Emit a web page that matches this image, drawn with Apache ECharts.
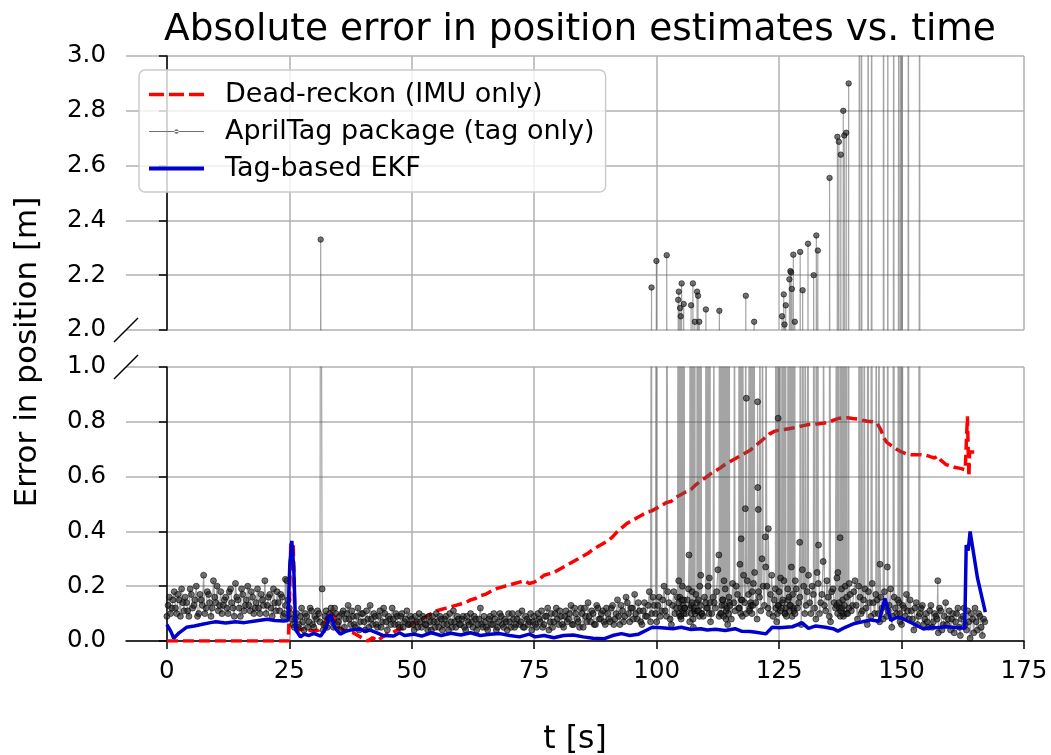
<!DOCTYPE html>
<html>
<head>
<meta charset="utf-8">
<script src="https://cdn.jsdelivr.net/npm/echarts@6/dist/echarts.min.js"></script>
<style>
  html, body { margin: 0; padding: 0; background: #fff; }
  #chart { width: 1051px; height: 755px; }
</style>
</head>
<body>
<div id="chart"></div>
<script>
const FONT = '"DejaVu Sans", "Liberation Sans", sans-serif';

const xTicks = [0, 25, 50, 75, 100, 125, 150, 175];

// dead-reckon error [t, err]
const deadReckon = [[0,0],[5,0],[10,0],[15,0],[20,0],[24.8,0],[25.1,0.2],[25.3,0.36],[25.8,0.35],[26.1,0.1],[26.4,0.05],[27,0.04],[28,0.045],[29,0.04],[30,0.035],[31,0.04],[32,0.06],[32.8,0.09],[33.5,0.105],[34.2,0.09],[35,0.05],[36,0.04],[37,0.035],[38,0.03],[39,0.02],[40,0.01],[41,0.0],[42,0.012],[43,0.0],[44,0.015],[45,0.025],[46,0.03],[47,0.04],[48,0.045],[49,0.055],[50,0.06],[51,0.07],[52,0.08],[53,0.09],[54,0.1],[55,0.11],[56,0.115],[57,0.12],[58,0.125],[59,0.13],[60,0.135],[61,0.14],[62,0.15],[63,0.155],[64,0.165],[65,0.17],[66,0.18],[67,0.19],[68,0.195],[69,0.2],[70,0.205],[71,0.21],[72,0.215],[73,0.22],[74,0.21],[75,0.215],[76,0.225],[77,0.24],[78,0.245],[79,0.25],[80,0.26],[81,0.27],[82,0.28],[83,0.29],[84,0.3],[85,0.31],[86,0.32],[87,0.335],[88,0.345],[89,0.355],[90,0.365],[91,0.38],[92,0.4],[93,0.415],[94,0.43],[95,0.44],[96,0.45],[97,0.46],[98,0.47],[99,0.475],[100,0.485],[101,0.495],[102,0.505],[103,0.51],[104,0.525],[105,0.535],[106,0.545],[107,0.553],[108,0.57],[109,0.585],[110,0.596],[111,0.61],[112,0.62],[113,0.632],[114,0.645],[115,0.655],[116,0.665],[117,0.675],[118,0.685],[119,0.695],[120,0.71],[121,0.725],[122,0.74],[123,0.755],[124,0.765],[125,0.77],[126,0.772],[127,0.775],[128,0.778],[129,0.782],[130,0.786],[131,0.79],[132,0.79],[133,0.793],[134,0.795],[135,0.797],[136,0.805],[137,0.812],[138,0.815],[139,0.815],[140,0.812],[141,0.81],[142,0.806],[143,0.802],[144,0.8],[145,0.795],[145.8,0.77],[146.4,0.74],[147,0.725],[148,0.712],[149,0.7],[150,0.69],[151,0.683],[152,0.68],[153,0.68],[154,0.68],[155,0.678],[156,0.672],[156.8,0.668],[157.3,0.675],[158,0.66],[159,0.645],[160,0.638],[161,0.633],[162,0.63],[163,0.625],[163.3,0.62],[163.45,0.82],[163.6,0.7],[163.75,0.6],[163.9,0.69],[164.5,0.69],[165.8,0.69]];

// EKF error [t, err]
const ekf = [[0,0.06],[0.8,0.035],[1.4,0.01],[2.5,0.03],[4,0.05],[5.6,0.055],[7,0.06],[8.9,0.067],[10,0.07],[12,0.066],[14,0.07],[15.8,0.067],[18,0.073],[20.5,0.079],[22,0.075],[23.9,0.073],[24.7,0.075],[25.1,0.28],[25.5,0.365],[25.9,0.27],[26.3,0.04],[27.3,0.015],[28,0.025],[29,0.02],[30,0.028],[31.4,0.018],[32.6,0.05],[33.1,0.095],[33.6,0.09],[34.2,0.05],[35.4,0.025],[36.5,0.035],[37.5,0.04],[39.5,0.043],[40.5,0.035],[41.5,0.04],[42.9,0.03],[44.2,0.02],[46.3,0.018],[47.5,0.03],[48.5,0.02],[50.4,0.025],[52,0.018],[54,0.03],[56,0.02],[58,0.028],[60,0.022],[62,0.03],[64,0.02],[66,0.025],[68,0.027],[70,0.02],[72,0.015],[74,0.025],[75.2,0.015],[77,0.02],[79,0.012],[81,0.02],[83,0.022],[85,0.015],[87,0.01],[89.2,0.008],[91,0.02],[92.8,0.027],[94.5,0.02],[96.3,0.025],[98,0.04],[99.1,0.05],[101,0.048],[103.3,0.045],[105,0.05],[107,0.042],[109,0.045],[110.3,0.04],[112,0.043],[114,0.038],[116,0.045],[117.3,0.036],[119,0.035],[120.3,0.032],[122.3,0.026],[123.6,0.05],[125,0.048],[127.7,0.052],[129.7,0.066],[131,0.046],[132.5,0.055],[134.4,0.05],[136,0.045],[137,0.036],[138.5,0.05],[140.4,0.064],[142,0.07],[143.8,0.077],[145.4,0.072],[146.6,0.155],[147.3,0.11],[147.8,0.075],[148.8,0.085],[149.8,0.085],[151,0.075],[152.5,0.062],[154.5,0.044],[156,0.05],[157.2,0.048],[159,0.052],[160.5,0.05],[162.2,0.048],[162.9,0.045],[163.2,0.35],[163.6,0.33],[164,0.4],[165.5,0.23],[167.1,0.105]];

// AprilTag error, regular samples [t, err]
const tagMain = [
[0,0.09],[0.5,0.16],[1,0.12],[1.5,0.18],[2,0.1],[2.5,0.15],[3,0.19],[3.5,0.11],[4,0.14],[4.5,0.09],
[5,0.17],[5.5,0.13],[6,0.2],[6.5,0.1],[7,0.15],[7.5,0.24],[8,0.12],[8.5,0.17],[9,0.09],[9.5,0.22],
[10,0.14],[10.5,0.11],[11,0.18],[11.5,0.13],[12,0.16],[12.5,0.1],[13,0.19],[13.5,0.12],[14,0.21],[14.5,0.15],
[15,0.09],[15.5,0.17],[16,0.13],[16.5,0.2],[17,0.11],[17.5,0.16],[18,0.12],[18.5,0.19],[19,0.1],[19.5,0.15],
[20,0.22],[20.5,0.13],[21,0.17],[21.5,0.09],[22,0.14],[22.5,0.18],[23,0.11],[23.5,0.16],[24,0.1],[24.5,0.22],
[25,0.12],[25.5,0.08],[26,0.05],[26.5,0.1],[27,0.06],[27.5,0.12],[28,0.04],[28.5,0.09],[29,0.07],[29.5,0.11],
[30,0.05],[30.5,0.08],[31,0.1],[32,0.06],[32.5,0.11],[33,0.08],[33.5,0.12],[34,0.05],[34.5,0.1],
[35,0.07],[35.5,0.04],[36,0.11],[36.5,0.08],[37,0.13],[37.5,0.06],[38,0.09],[38.5,0.05],[39,0.12],[39.5,0.07],
[40,0.1],[40.5,0.04],[41,0.08],[41.5,0.13],[42,0.06],[42.5,0.09],[43,0.05],[43.5,0.11],[44,0.07],[44.5,0.1],
[45,0.04],[45.5,0.08],[46,0.12],[46.5,0.06],[47,0.09],[47.5,0.05],[48,0.1],[48.5,0.07],[49,0.11],[49.5,0.06],
[50,0.08],[50.5,0.04],[51,0.07],[51.5,0.1],[52,0.05],[52.5,0.08],[53,0.06],[53.5,0.09],[54,0.04],[54.5,0.07],
[55,0.1],[55.5,0.05],[56,0.08],[56.5,0.06],[57,0.09],[57.5,0.04],[58,0.07],[58.5,0.11],[59,0.05],[59.5,0.08],
[60,0.06],[60.5,0.09],[61,0.04],[61.5,0.07],[62,0.1],[62.5,0.05],[63,0.08],[63.5,0.06],[64,0.12],[64.5,0.05],
[65,0.07],[65.5,0.04],[66,0.09],[66.5,0.06],[67,0.08],[67.5,0.05],[68,0.1],[68.5,0.06],[69,0.08],[69.5,0.04],
[70,0.07],[70.5,0.1],[71,0.05],[71.5,0.08],[72,0.06],[72.5,0.11],[73,0.05],[73.5,0.08],[74,0.07],[74.5,0.04],
[75,0.09],[75.5,0.05],[76,0.08],[76.5,0.11],[77,0.06],[77.5,0.09],[78,0.04],[78.5,0.1],[79,0.07],[79.5,0.12],
[80,0.06],[80.5,0.09],[81,0.05],[81.5,0.11],[82,0.08],[82.5,0.13],[83,0.06],[83.5,0.1],[84,0.07],[84.5,0.12],
[85,0.05],[85.5,0.09],[86,0.14],[86.5,0.07],[87,0.1],[87.5,0.06],[88,0.12],[88.5,0.08],[89,0.11],[89.5,0.06],
[90,0.1],[90.5,0.07],[91,0.13],[91.5,0.08],[92,0.15],[92.5,0.06],[93,0.11],[93.5,0.09],[94,0.14],[94.5,0.07],
[95,0.12],[95.5,0.17],[96,0.08],[96.5,0.11],[97,0.06],[97.5,0.14],[98,0.09],[98.5,0.18],[99,0.1],[99.5,0.13],
[100,0.07],[100.5,0.16],[101,0.11],[101.5,0.2],[102,0.09],[102.5,0.14],[103,0.06],[103.5,0.18],[104,0.12],[104.5,0.22],
[105,0.08],[105.5,0.15],[106,0.1],[106.5,0.19],[107,0.13],[107.5,0.05],[108,0.17],[108.5,0.11],[109,0.24],[109.5,0.09],
[110,0.14],[110.5,0.2],[111,0.07],[111.5,0.16],[112,0.12],[112.5,0.26],[113,0.1],[113.5,0.15],[114,0.19],[114.5,0.06],
[115,0.13],[115.5,0.21],[116,0.11],[116.5,0.17],[117,0.28],[117.5,0.09],[118,0.14],[118.5,0.22],[119,0.12],[119.5,0.18],
[120,0.25],[120.5,0.08],[121,0.16],[121.5,0.3],[122,0.13],[122.5,0.2],[123,0.1],[123.5,0.24],[124,0.15],[124.5,0.07],
[125,0.18],[125.5,0.12],[126,0.22],[126.5,0.09],[127,0.16],[127.5,0.27],[128,0.11],[128.5,0.19],[129,0.14],[129.5,0.06],
[130,0.2],[130.5,0.13],[131,0.24],[131.5,0.1],[132,0.17],[132.5,0.08],[133,0.21],[133.5,0.14],[134,0.29],[134.5,0.11],
[135,0.16],[135.5,0.07],[136,0.19],[136.5,0.12],[137,0.25],[137.5,0.09],[138,0.15],[138.5,0.2],[139,0.1],[139.5,0.17],
[140,0.13],[140.5,0.22],[141,0.08],[141.5,0.16],[142,0.11],[142.5,0.19],[143,0.06],[143.5,0.14],[144,0.21],[144.5,0.1],
[145,0.15],[145.5,0.07],[146,0.12],[146.5,0.18],[147,0.09],[147.5,0.13],[148,0.05],[148.5,0.16],[149,0.1],[149.5,0.14],
[150,0.06],[150.5,0.12],[151,0.17],[151.5,0.08],[152,0.11],[152.5,0.04],[153,0.14],[153.5,0.09],[154,0.12],[154.5,0.06],
[155,0.1],[155.5,0.05],[156,0.13],[156.5,0.07],[157,0.09],[157.5,0.03],[158,0.11],[158.5,0.06],[159,0.14],[159.5,0.08],
[160,0.04],[160.5,0.1],[161,0.07],[161.5,0.12],[162,0.02],[162.5,0.09],[163,0.06],[163.5,0.11],[164,0.01],[164.5,0.08],
[165,0.12],[165.5,0.04],[166,0.09],[166.5,0.02],[167,0.07]
];

// AprilTag error, in-between samples [t, err]
const tagMid = [
[0.25,0.13],[0.75,0.1],[1.25,0.15],[1.75,0.12],[2.25,0.17],[2.75,0.09],[3.25,0.14],[3.75,0.16],[4.25,0.11],[4.75,0.19],
[5.25,0.12],[5.75,0.15],[6.25,0.09],[6.75,0.17],[7.25,0.13],[7.75,0.1],[8.25,0.18],[8.75,0.14],[9.25,0.12],[9.75,0.16],
[10.25,0.2],[10.75,0.13],[11.25,0.1],[11.75,0.15],[12.25,0.12],[12.75,0.18],[13.25,0.14],[13.75,0.09],[14.25,0.16],[14.75,0.12],
[15.25,0.19],[15.75,0.11],[16.25,0.15],[16.75,0.13],[17.25,0.18],[17.75,0.1],[18.25,0.14],[18.75,0.12],[19.25,0.17],[19.75,0.13],
[20.25,0.1],[20.75,0.16],[21.25,0.12],[21.75,0.19],[22.25,0.11],[22.75,0.14],[23.25,0.17],[23.75,0.09],[24.25,0.13],[24.75,0.15],
[25.25,0.1],[25.75,0.06],[26.25,0.08],[26.75,0.05],[27.25,0.09],[27.75,0.07],[28.25,0.1],[28.75,0.05],[29.25,0.12],[29.75,0.06],
[30.25,0.09],[30.75,0.11],[31.25,0.07],[31.9,0.04],[32.25,0.09],[32.75,0.05],[33.25,0.1],[33.75,0.07],[34.25,0.12],[34.75,0.06],
[35.25,0.09],[35.75,0.1],[36.25,0.05],[36.75,0.1],[37.25,0.08],[37.75,0.11],[38.25,0.06],[38.75,0.09],[39.25,0.04],[39.75,0.1],
[40.25,0.07],[40.75,0.11],[41.25,0.05],[41.75,0.08],[42.25,0.1],[42.75,0.06],[43.25,0.09],[43.75,0.05],[44.25,0.12],[44.75,0.07],
[45.25,0.09],[45.75,0.06],[46.25,0.08],[46.75,0.1],[47.25,0.06],[47.75,0.09],[48.25,0.05],[48.75,0.08],[49.25,0.06],[49.75,0.09],
[50.25,0.06],[50.75,0.09],[51.25,0.05],[51.75,0.07],[52.25,0.09],[52.75,0.06],[53.25,0.04],[53.75,0.07],[54.25,0.09],[54.75,0.05],
[55.25,0.07],[55.75,0.09],[56.25,0.04],[56.75,0.08],[57.25,0.06],[57.75,0.1],[58.25,0.05],[58.75,0.07],[59.25,0.09],[59.75,0.06],
[60.25,0.08],[60.75,0.05],[61.25,0.09],[61.75,0.06],[62.25,0.07],[62.75,0.09],[63.25,0.04],[63.75,0.08],[64.25,0.06],[64.75,0.09],
[65.25,0.05],[65.75,0.08],[66.25,0.06],[66.75,0.1],[67.25,0.04],[67.75,0.07],[68.25,0.09],[68.75,0.05],[69.25,0.07],[69.75,0.1],
[70.25,0.05],[70.75,0.08],[71.25,0.06],[71.75,0.1],[72.25,0.07],[72.75,0.05],[73.25,0.09],[73.75,0.06],[74.25,0.1],[74.75,0.07],
[75.25,0.06],[75.75,0.1],[76.25,0.07],[76.75,0.05],[77.25,0.09],[77.75,0.12],[78.25,0.07],[78.75,0.05],[79.25,0.1],[79.75,0.08],
[80.25,0.11],[80.75,0.06],[81.25,0.09],[81.75,0.07],[82.25,0.1],[82.75,0.06],[83.25,0.12],[83.75,0.08],[84.25,0.05],[84.75,0.1],
[85.25,0.12],[85.75,0.07],[86.25,0.09],[86.75,0.11],[87.25,0.06],[87.75,0.13],[88.25,0.08],[88.75,0.1],[89.25,0.07],[89.75,0.12],
[90.25,0.08],[90.75,0.12],[91.25,0.06],[91.75,0.1],[92.25,0.09],[92.75,0.13],[93.25,0.07],[93.75,0.16],[94.25,0.1],[94.75,0.12],
[95.25,0.08],[95.75,0.1],[96.25,0.14],[96.75,0.07],[97.25,0.11],[97.75,0.09],[98.25,0.13],[98.75,0.07],[99.25,0.16],[99.75,0.1],
[100.25,0.13],[100.75,0.09],[101.25,0.15],[101.75,0.11],[102.25,0.18],[102.75,0.08],[103.25,0.13],[103.75,0.1],[104.25,0.16],[104.75,0.09],
[105.25,0.2],[105.75,0.12],[106.25,0.15],[106.75,0.07],[107.25,0.18],[107.75,0.11],[108.2,0.14],[108.8,0.2],[109.25,0.1],[109.75,0.16],
[110.2,0.12],[110.75,0.23],[111.25,0.1],[111.75,0.14],[112.25,0.18],[112.75,0.09],[113.3,0.13],[113.75,0.22],[114.25,0.11],[114.75,0.16],
[115.25,0.08],[115.75,0.14],[116.25,0.2],[116.75,0.12],[117.3,0.15],[117.75,0.24],[118.25,0.1],[118.75,0.17],[119.3,0.13],[119.75,0.21],
[120.25,0.14],[120.8,0.18],[121.25,0.11],[121.75,0.2],[122.25,0.27],[122.75,0.12],[123.25,0.17],[123.75,0.09],[124.25,0.19],[124.75,0.13],
[125.3,0.23],[125.75,0.15],[126.25,0.1],[126.75,0.19],[127.2,0.13],[127.75,0.17],[128.3,0.22],[128.75,0.12],[129.25,0.16],[129.75,0.26],
[130.25,0.1],[130.75,0.18],[131.25,0.14],[131.75,0.2],[132.25,0.12],[132.75,0.25],[133.25,0.1],[133.75,0.17],[134.25,0.13],[134.75,0.22],
[135.25,0.09],[135.75,0.18],[136.25,0.14],[136.8,0.23],[137.3,0.12],[137.75,0.19],[138.2,0.1],[138.8,0.16],[139.3,0.21],[139.75,0.11],
[140.25,0.18],[140.75,0.13],[141.25,0.2],[141.75,0.1],[142.25,0.15],[142.75,0.12],[143.25,0.18],[143.75,0.09],[144.25,0.14],[144.75,0.17],
[145.25,0.1],[145.75,0.16],[146.25,0.08],[146.75,0.13],[147.25,0.11],[147.75,0.19],[148.25,0.09],[148.75,0.12],[149.25,0.15],[149.7,0.07],
[150.25,0.13],[150.75,0.09],[151.25,0.11],[151.75,0.15],[152.25,0.08],[152.75,0.12],[153.25,0.06],[153.75,0.1],[154.25,0.13],[154.75,0.08],
[155.25,0.07],[155.75,0.11],[156.25,0.05],[156.75,0.1],[157.25,0.08],[157.75,0.12],[158.25,0.04],[158.75,0.09],[159.25,0.06],[159.75,0.11],
[160.25,0.08],[160.75,0.03],[161.25,0.1],[161.75,0.05],[162.25,0.08],[162.75,0.12],[163.25,0.04],[163.75,0.07],[164.25,0.1],[164.75,0.03],
[165.25,0.07],[165.75,0.1],[166.25,0.05],[166.75,0.08]
];

// AprilTag outlier samples (and the low samples between them) [t, err]
const tagOutliers = [
[24.2,0.225],[31.4,2.33],[31.7,0.19],[98.95,2.155],[99.95,2.252],[102.05,2.273],
[104.4,2.11],[104.45,0.14],[104.52,2.14],[104.58,0.1],[104.66,1.6],[104.72,0.16],[104.78,2.08],[104.84,0.12],[104.9,2.05],[104.96,0.09],[105.04,1.4],[105.1,2.17],[105.16,0.15],[105.24,1.8],[105.3,0.11],[105.38,1.5],[105.44,0.13],[105.52,2.095],[105.56,0.1],[105.62,1.99],[105.68,0.12],
[106.6,0.314],[106.8,1.5],[106.86,0.12],[106.93,1.3],[107.03,2.09],[107.09,0.1],[107.16,1.7],[107.22,0.14],[107.4,2.17],[107.45,0.08],[107.55,1.4],[107.62,0.12],[107.8,2.03],[107.85,0.1],
[108.25,2.14],[108.3,0.11],[108.45,2.125],[108.52,0.15],[108.7,2.03],[108.76,0.09],[108.9,1.8],[108.95,0.13],[109.1,1.5],[109.16,0.1],
[110.05,2.075],[110.3,1.6],[110.35,0.12],[110.62,1.4],[110.68,0.1],[110.9,1.99],[110.95,0.14],[111.7,1.3],
[112.7,0.314],[112.8,2.07],[113.2,1.5],[113.26,0.1],[113.4,1.7],[113.45,0.15],[113.6,1.2],[113.66,0.09],[113.8,1.4],[113.86,0.13],[114.1,1.9],[114.16,0.08],[114.3,1.3],[114.36,0.12],[114.6,1.6],[114.66,0.1],[114.85,1.2],[114.9,0.14],
[115.9,1.5],[116.8,1.3],[116.86,0.12],[117.1,1.7],[117.16,0.1],[117.25,0.373],[117.35,1.4],[117.4,0.15],[117.6,1.2],
[118.1,0.483],[118.2,2.125],[118.3,0.886],[118.9,1.6],[118.96,0.11],[119.15,1.3],[119.2,0.14],[119.4,1.8],[119.46,0.1],[119.6,1.4],[119.66,0.13],[119.9,2.03],
[120.6,0.873],[120.65,0.56],[120.75,0.48],[121.05,1.5],[121.6,1.4],[122.2,0.38],[122.3,1.7],[122.8,0.41],
[124.3,1.6],[124.36,0.12],[124.6,1.2],[124.66,0.1],[124.8,0.813],[124.85,1.4],[124.9,0.13],[125.2,1.8],[125.26,0.11],[125.6,2.05],[125.66,0.14],[125.95,2.13],[126.1,2.02],[126.15,0.1],[126.35,2.09],[126.4,0.12],[126.8,1.5],[126.86,0.15],[127.1,2.185],[127.15,0.11],[127.3,2.215],[127.35,0.13],[127.45,2.21],[127.6,2.15],[127.65,0.09],[127.9,2.275],[127.95,0.12],[128.2,2.03],[128.25,0.1],
[129.2,0.36],[129.3,2.285],[129.8,2.145],[130.3,1.6],[130.9,2.315],[132.05,2.2],[132.6,2.345],[132.9,2.29],[133.05,0.35],[134.05,1.5],[135.3,2.555],
[136.7,1.4],[136.76,0.13],[136.9,2.705],[136.95,0.1],[137.2,2.687],[137.25,0.14],[137.45,0.377],[137.6,2.64],[137.65,0.11],[137.85,1.6],[137.9,0.12],[138.1,2.8],[138.15,0.09],[138.3,2.71],[138.35,0.13],[138.7,2.72],[138.75,0.1],[139.2,2.9],[139.25,0.12],
[141.4,4],[141.8,4],[142.4,1.6],[143.2,4],[143.9,4],[144.8,1.5],[145.4,1.7],[145.6,0.28],[146.3,4],[147.1,0.27],[147.2,4],[148.4,4],[149.45,4],[149.65,0.1],[149.8,4],[150.1,4],[151.4,4],[153.7,4],[157.4,0.22]
];

const tagData = tagMain.concat(tagMid, tagOutliers).sort((a, b) => a[0] - b[0]);

const gridLeft = 126;
const gridRight = 27;
const topGridTop = 56;
const panelH = 274;
const botGridTop = 367;

const chart = echarts.init(document.getElementById('chart'), null, { renderer: 'canvas' });

const gridLine = { show: true, lineStyle: { color: '#b0b0b0', width: 1.5 } };
const blackLine = { color: '#000', width: 1.5 };

const tagLine = { color: 'rgba(90,90,90,0.55)', width: 1.2 };
const tagItem = { color: 'rgba(30,30,30,0.62)', borderColor: 'rgba(0,0,0,0.7)', borderWidth: 0.8 };

function breakMark(cx, cy) {
  return {
    type: 'line',
    shape: { x1: cx - 12, y1: cy + 12, x2: cx + 12, y2: cy - 12 },
    style: { stroke: '#000', lineWidth: 1.5 },
    z: 20
  };
}

const option = {
  animation: false,
  backgroundColor: '#fff',
  title: {
    text: 'Absolute error in position estimates vs. time',
    left: 575,
    top: 6,
    textAlign: 'center',
    textStyle: { fontFamily: FONT, fontSize: 37.5, fontWeight: 'normal', color: '#000' }
  },
  legend: {
    data: [
      { name: 'Dead-reckon (IMU only)', icon: 'path://M0,0h15v3.5h-15z M20,0h15v3.5h-15z M40,0h15v3.5h-15z', itemStyle: { color: '#ff0000', borderWidth: 0 } },
      { name: 'AprilTag package (tag only)', icon: 'path://M0,2.1h55v0.9h-55z M25.3,2.55a2.2,2.2 0 1,0 4.4,0a2.2,2.2 0 1,0 -4.4,0', itemStyle: { color: '#707070', borderWidth: 0 } },
      { name: 'Tag-based EKF', icon: 'path://M0,0h55v4h-55z', itemStyle: { color: '#0000cd', borderWidth: 0 } }
    ],
    orient: 'vertical',
    left: 139,
    top: 70,
    padding: [11, 11, 10, 10],
    itemWidth: 55,
    itemHeight: 14,
    itemGap: 10,
    textStyle: { fontFamily: FONT, fontSize: 27, color: '#000', padding: [0, 0, 0, 16] },
    borderColor: '#cccccc',
    borderWidth: 1.5,
    borderRadius: 6,
    backgroundColor: 'rgba(255,255,255,0.8)',
    z: 10
  },
  grid: [
    { left: gridLeft, right: gridRight, top: topGridTop, height: panelH, outerBoundsMode: 'none' },
    { left: gridLeft, right: gridRight, top: botGridTop, height: panelH, outerBoundsMode: 'none' }
  ],
  xAxis: [
    {
      gridIndex: 0, type: 'value', min: -8.35, max: 175,
      axisLine: { show: false },
      axisTick: { show: false, customValues: xTicks },
      axisLabel: { show: false, customValues: xTicks },
      splitLine: gridLine
    },
    {
      gridIndex: 1, type: 'value', min: -8.35, max: 175,
      axisLine: { show: true, onZero: false, lineStyle: blackLine },
      axisTick: { show: true, length: 8, lineStyle: blackLine, customValues: xTicks },
      axisLabel: { customValues: xTicks, fontFamily: FONT, fontSize: 24.5, color: '#000', margin: 18 },
      splitLine: gridLine,
      name: 't [s]',
      nameLocation: 'middle',
      nameGap: 83,
      nameTextStyle: { fontFamily: FONT, fontSize: 31.5, color: '#000' }
    }
  ],
  yAxis: [
    {
      gridIndex: 0, type: 'value', min: 2, max: 3, interval: 0.2,
      axisLine: { show: true, lineStyle: blackLine },
      axisTick: { show: true, length: 8, lineStyle: blackLine },
      axisLabel: { fontFamily: FONT, fontSize: 24.5, color: '#000', margin: 20, formatter: v => v.toFixed(1) },
      splitLine: gridLine
    },
    {
      gridIndex: 1, type: 'value', min: 0, max: 1, interval: 0.2,
      axisLine: { show: true, lineStyle: blackLine },
      axisTick: { show: true, length: 8, lineStyle: blackLine },
      axisLabel: { fontFamily: FONT, fontSize: 24.5, color: '#000', margin: 20, formatter: v => v.toFixed(1) },
      splitLine: gridLine
    }
  ],
  series: [
    {
      name: 'Dead-reckon (IMU only)',
      type: 'line',
      xAxisIndex: 1, yAxisIndex: 1,
      data: deadReckon,
      showSymbol: false,
      lineStyle: { color: '#ff0000', width: 3.5, type: [11, 5] },
      itemStyle: { color: '#ff0000' },
      z: 1
    },
    {
      name: 'AprilTag package (tag only)',
      type: 'line',
      xAxisIndex: 1, yAxisIndex: 1,
      data: tagData,
      symbol: 'circle',
      symbolSize: 6,
      showAllSymbol: true,
      lineStyle: tagLine,
      itemStyle: tagItem,
      z: 2
    },
    {
      name: 'AprilTag package (tag only)',
      type: 'line',
      xAxisIndex: 0, yAxisIndex: 0,
      data: tagData,
      symbol: 'circle',
      symbolSize: 5.5,
      showAllSymbol: true,
      lineStyle: tagLine,
      itemStyle: tagItem,
      z: 2
    },
    {
      name: 'Tag-based EKF',
      type: 'line',
      xAxisIndex: 1, yAxisIndex: 1,
      data: ekf,
      showSymbol: false,
      lineStyle: { color: '#0000cd', width: 3.5 },
      itemStyle: { color: '#0000cd' },
      z: 3
    }
  ],
  graphic: [
    {
      type: 'text',
      x: 28, y: 352,
      rotation: Math.PI / 2,
      style: {
        text: 'Error in position [m]',
        font: '31px "DejaVu Sans", sans-serif',
        fill: '#000',
        align: 'center',
        verticalAlign: 'middle'
      }
    },
    breakMark(gridLeft, topGridTop + panelH),
    breakMark(gridLeft, botGridTop)
  ]
};

chart.setOption(option);
</script>
</body>
</html>
